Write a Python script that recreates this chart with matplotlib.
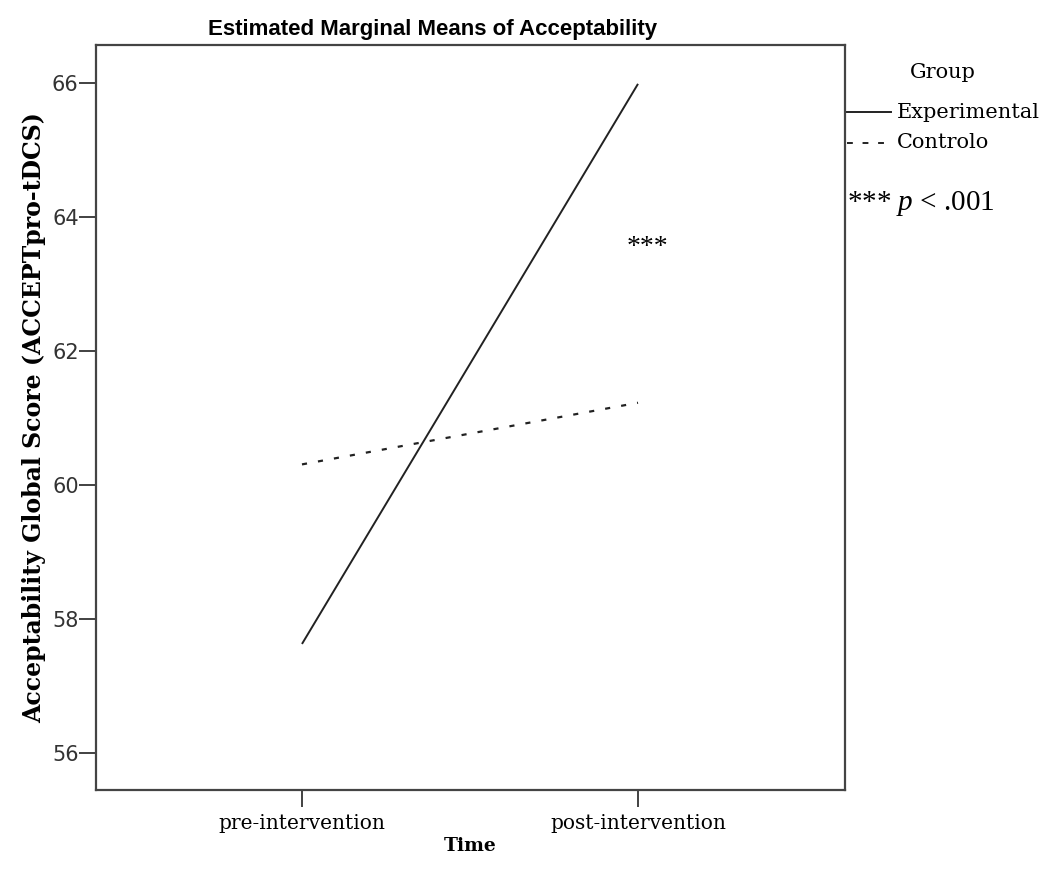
import matplotlib
matplotlib.use("Agg")
import matplotlib.pyplot as plt
from matplotlib.lines import Line2D

plt.rcParams["mathtext.fontset"] = "custom"
plt.rcParams["mathtext.rm"] = "Liberation Serif"
plt.rcParams["mathtext.it"] = "Liberation Serif:italic"

time_labels = ["pre-intervention", "post-intervention"]
experimental = [57.63, 65.99]
controlo = [60.31, 61.23]
y_ticks = [56, 58, 60, 62, 64, 66]

fig = plt.figure(figsize=(10.46, 8.8), dpi=100)
W, H = 1046, 880
ax = fig.add_axes([96 / W, 1 - 790 / H, (845 - 96) / W, (790 - 45) / H])

x = [0, 1]
ax.plot(x, experimental, color="#222222", lw=1.4, solid_capstyle="butt")
ax.plot(x, controlo, color="#222222", lw=1.6, linestyle=(0, (2.3, 5.0)))

ax.set_xlim(-0.613, 1.616)
ax.set_ylim(55.45, 66.57)
ax.set_xticks(x)
ax.set_xticklabels(time_labels, fontfamily="DejaVu Serif", fontsize=14.5)
ax.set_yticks(y_ticks)
ax.set_yticklabels([str(v) for v in y_ticks], fontfamily="DejaVu Sans", fontsize=15, color="#333333")
ax.tick_params(axis="both", length=12, width=1.3, color="#333333", pad=0.5)
ax.tick_params(axis="x", pad=5)
for s in ax.spines.values():
    s.set_linewidth(1.6)
    s.set_color("#444444")

fig.text(433 / W, 1 - 30 / H, "Estimated Marginal Means of Acceptability",
         fontfamily="Liberation Sans", fontweight="bold", fontsize=16,
         ha="center", va="center")
ax.set_xlabel("Time", fontfamily="DejaVu Serif", fontweight="bold", fontsize=13.5, labelpad=3)
ax.set_ylabel("Acceptability Global Score (ACCEPTpro-tDCS)", fontfamily="DejaVu Serif",
              fontweight="bold", fontsize=17, labelpad=4)

ax.text(1.027, 63.54, "***", fontfamily="Liberation Serif", fontsize=20,
        ha="center", va="center")

# legend
fig.text(943 / W, 1 - 72 / H, "Group", fontfamily="DejaVu Serif", fontsize=15,
         ha="center", va="center")
fig.add_artist(Line2D([847 / W, 891 / W], [1 - 112 / H, 1 - 112 / H], color="#222222", lw=1.4,
                      transform=fig.transFigure))
fig.add_artist(Line2D([847 / W, 891 / W], [1 - 143 / H, 1 - 143 / H], color="#222222", lw=1.4,
                      linestyle=(0, (3, 5)), transform=fig.transFigure))
fig.text(897 / W, 1 - 112 / H, "Experimental", fontfamily="DejaVu Serif", fontsize=15,
         va="center")
fig.text(897 / W, 1 - 143 / H, "Controlo", fontfamily="DejaVu Serif", fontsize=15,
         va="center")
fig.text(847 / W, 1 - 203 / H, "*** $\\mathit{p}$ < .001", fontfamily="Liberation Serif",
         fontsize=21, va="center")

fig.savefig("out.png", dpi=100, facecolor="white")
